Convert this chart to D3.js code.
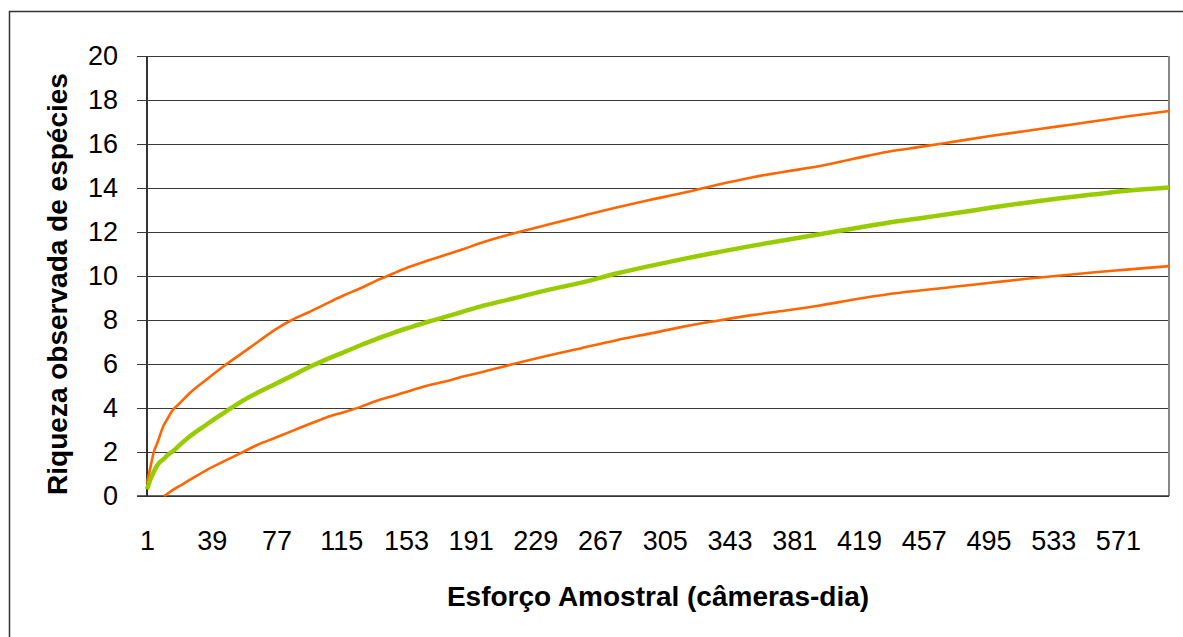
<!DOCTYPE html>
<html>
<head>
<meta charset="utf-8">
<script src="https://cdn.jsdelivr.net/npm/d3@7"></script>
<style>
  html, body { margin: 0; padding: 0; background: #fff; }
  svg { display: block; font-family: "Liberation Sans", Arial, sans-serif; }
</style>
</head>
<body>
<svg id="chart" width="1183" height="637"></svg>
<script>
// Sampling effort (camera-days) at which the curves are recorded
const effort = [1, 3, 5, 7, 11, 13, 16, 20, 26, 36, 46, 56, 66, 76, 86, 96, 106, 116, 126, 136,
  146, 156, 166, 176, 186, 196, 216, 236, 256, 276, 296, 316, 336, 356, 376, 396, 416, 436,
  456, 476, 496, 516, 536, 556, 576, 601];

// Observed species richness (mean) and its upper / lower confidence limits
const richness = [0.3, 0.75, 1.1, 1.4, 1.7, 1.85, 2.02, 2.3, 2.7, 3.25, 3.77, 4.28, 4.7, 5.08, 5.46,
  5.85, 6.2, 6.52, 6.84, 7.14, 7.43, 7.68, 7.92, 8.14, 8.37, 8.6, 8.98, 9.36, 9.7, 10.1, 10.45,
  10.78, 11.08, 11.37, 11.64, 11.9, 12.16, 12.42, 12.64, 12.86, 13.1, 13.32, 13.52, 13.7, 13.87, 14.02];
const upperCI = [0.6, 1.3, 2.0, 2.4, 3.25, 3.5, 3.9, 4.2, 4.67, 5.3, 5.9, 6.45, 7.0, 7.55, 8.0,
  8.35, 8.73, 9.1, 9.43, 9.8, 10.13, 10.44, 10.7, 10.95, 11.2, 11.48, 11.93, 12.33, 12.72, 13.1,
  13.45, 13.78, 14.15, 14.48, 14.75, 15.0, 15.33, 15.65, 15.88, 16.12, 16.36, 16.58, 16.8, 17.02,
  17.25, 17.5];
const lowerCI = [null, null, null, null, 0, 0.1, 0.27, 0.45, 0.73, 1.18, 1.57, 1.95, 2.33, 2.64,
  2.95, 3.26, 3.56, 3.8, 4.04, 4.33, 4.56, 4.8, 5.02, 5.2, 5.42, 5.6, 6.0, 6.37, 6.72, 7.07, 7.38,
  7.7, 7.97, 8.22, 8.43, 8.66, 8.93, 9.17, 9.35, 9.52, 9.69, 9.86, 10.01, 10.16, 10.29, 10.45];

// Category axis (one category per camera-day) and its labels
const categories = d3.range(1, 602);
const xTickLabels = [1, 39, 77, 115, 153, 191, 229, 267, 305, 343, 381, 419, 457, 495, 533, 571];
const yTickLabels = [0, 2, 4, 6, 8, 10, 12, 14, 16, 18, 20];

const svg = d3.select("#chart");
const plot = { left: 147, right: 1169, top: 56, bottom: 496 };
const font = "'Liberation Sans', Arial, sans-serif";

// Outer chart frame
svg.append("rect")
  .attr("x", 9.5).attr("y", 11.5)
  .attr("width", 1200).attr("height", 700)
  .attr("fill", "#fff").attr("stroke", "#333").attr("stroke-width", 1.5);

const x = d3.scalePoint().domain(categories).range([plot.left, plot.right]).padding(0);
const y = d3.scaleLinear().domain([0, 20]).range([plot.bottom, plot.top]);

// Horizontal gridlines with outward ticks and value labels
const yAxis = svg.append("g")
  .attr("transform", `translate(${plot.right},0)`)
  .call(d3.axisLeft(y).tickValues(yTickLabels).tickSize(plot.right - 137).tickSizeOuter(0).tickPadding(19));
yAxis.select(".domain").remove();
yAxis.selectAll(".tick line").attr("stroke", "#3a3a3a").attr("stroke-width", 1.2);
yAxis.selectAll(".tick text")
  .attr("font-size", 27).attr("fill", "#000").attr("font-family", font);

// Plot area border (right side) and value axis line
svg.append("line")
  .attr("x1", plot.right).attr("x2", plot.right)
  .attr("y1", plot.top).attr("y2", plot.bottom)
  .attr("stroke", "#888").attr("stroke-width", 2);
svg.append("line")
  .attr("x1", plot.left).attr("x2", plot.left)
  .attr("y1", plot.top).attr("y2", plot.bottom + 1)
  .attr("stroke", "#333").attr("stroke-width", 2);

// Category axis
const xAxis = svg.append("g")
  .attr("transform", `translate(0,${plot.bottom})`)
  .call(d3.axisBottom(x).tickValues(xTickLabels).tickSize(0).tickPadding(35));
xAxis.select(".domain").remove();
xAxis.selectAll(".tick text")
  .attr("font-size", 27).attr("fill", "#000").attr("font-family", font);
svg.append("line")
  .attr("x1", 137).attr("x2", plot.right)
  .attr("y1", plot.bottom).attr("y2", plot.bottom)
  .attr("stroke", "#333").attr("stroke-width", 1.5);

// Curves
const rows = (vals) => effort.map((e, i) => ({ e, v: vals[i] }));
const line = d3.line()
  .defined(d => d.v != null)
  .x(d => x(d.e))
  .y(d => y(d.v))
  .curve(d3.curveMonotoneX);

svg.append("path").datum(rows(upperCI))
  .attr("d", line).attr("fill", "none")
  .attr("stroke", "#ff6600").attr("stroke-width", 2.6);
svg.append("path").datum(rows(lowerCI))
  .attr("d", line).attr("fill", "none")
  .attr("stroke", "#ff6600").attr("stroke-width", 2.6);
svg.append("path").datum(rows(richness))
  .attr("d", line).attr("fill", "none")
  .attr("stroke", "#99cc00").attr("stroke-width", 4.5);

// Axis titles
svg.append("text")
  .attr("transform", `translate(67,284) rotate(-90)`)
  .attr("text-anchor", "middle")
  .attr("font-size", 28).attr("font-weight", "bold").attr("font-family", font)
  .text("Riqueza observada de espécies");
svg.append("text")
  .attr("x", 658).attr("y", 606)
  .attr("text-anchor", "middle")
  .attr("font-size", 28).attr("font-weight", "bold").attr("font-family", font)
  .text("Esforço Amostral (câmeras-dia)");
</script>
</body>
</html>
